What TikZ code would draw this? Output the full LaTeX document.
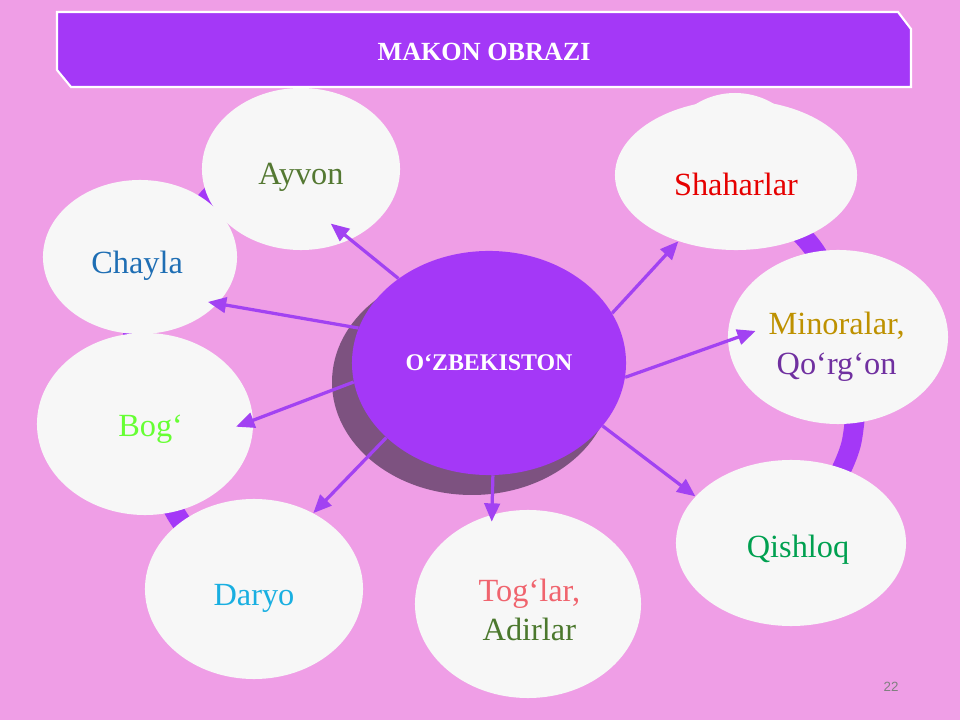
\documentclass[tikz,border=0pt]{standalone}
\usepackage{fontspec}
\setmainfont{Liberation Serif}
\newfontfamily\seitenfont{Liberation Sans}
\usetikzlibrary{shapes.geometric,arrows.meta}
\definecolor{rosa}{RGB}{239,158,230}
\definecolor{lila}{RGB}{164,56,247}
\definecolor{pfeillila}{RGB}{162,66,242}
\definecolor{schatten}{RGB}{125,82,128}
\definecolor{blasegrau}{RGB}{247,247,247}
\begin{document}
\begin{tikzpicture}
		[
		x=0.025cm, y=-0.025cm, >={Triangle[length=13pt,width=11pt]},
		%Voreinstellungen
		blase/.style 2 args={ellipse, fill=blasegrau, inner sep=0pt, minimum width=#1*0.05cm, minimum height=#2*0.05cm},
		every label/.style={font=\fontsize{23}{28}\selectfont, align=center, yshift=-5pt},
		pfeil/.style={->, pfeillila, line width=2.3pt},
		ring/.style={lila, line width=14pt}
		]
		
		%Hintergrund
		\fill[rosa] (0,0) rectangle (960,720);
		\useasboundingbox (0,0) rectangle (960,720);
		
		%Ring hinter den Blasen
		\draw[ring] plot[smooth] coordinates {(250,160) (206,201) (160,268) (133,334) (135,420) (176,514) (215,560)};
		\draw[ring] plot[smooth] coordinates {(770,205) (815,251) (855,335) (852,440) (825,500)};
		
		%Schatten der Mitte
		\fill[schatten] (472,382) ellipse (140 and 113);
		
		%Blasen
		\fill[blasegrau] (735,162) ellipse (72 and 69);
		\node[blase={121}{75}, label={[text={rgb,255:red,230;green,0;blue,0}, yshift=-2pt]center:Shaharlar}] (shaharlar) at (736,175) {};
		\node[blase={97}{77}, label={[text={rgb,255:red,30;green,110;blue,180}, yshift=-1pt, xshift=-2pt]center:Chayla}] (chayla) at (140,257) {};
		\node[blase={99}{81}, label={[text={rgb,255:red,84;green,120;blue,50}, yshift=-1pt]center:Ayvon}] (ayvon) at (301,169) {};
		\node[blase={108}{91}, label={[text={rgb,255:red,102;green,255;blue,51}, xshift=4pt, yshift=1pt]center:Bog‘}] (bog) at (145,424) {};
		\node[blase={109}{90}, label={[text={rgb,255:red,25;green,175;blue,225}, yshift=-2pt]center:Daryo}] (daryo) at (254,589) {};
		\node[blase={113}{94}, label={[yshift=1pt, xshift=1pt]center:{\textcolor[RGB]{240,100,110}{Tog‘lar,}\\\textcolor[RGB]{75,120,45}{Adirlar}}}] (toglar) at (528,604) {};
		\node[blase={115}{83}, label={[text={rgb,255:red,0;green,160;blue,80}, xshift=5pt]center:Qishloq}] (qishloq) at (791,543) {};
		\node[blase={110}{87}, label={[yshift=-2pt, xshift=-1pt]center:{\textcolor[RGB]{190,145,0}{Minoralar,}\\\textcolor[RGB]{112,48,160}{Qo‘rg‘on}}}] (minoralar) at (838,337) {};
		
		%Mitte
		\node[blase={137}{112}, fill=lila, text=white, font=\bfseries\fontsize{17}{18}\selectfont] (c) at (489,363) {O‘ZBEKISTON};
		
		%Pfeile von der Mitte
		\draw[pfeil, shorten >=-18pt] (c.137) -- (ayvon.-55);
		\draw[pfeil, shorten >=-7pt] (c.165) -- (chayla.-31);
		\draw[pfeil, shorten >=-13pt] (c.188) -- (bog.2);
		\draw[pfeil] (c.216) -- (daryo.52);
		\draw[pfeil, shorten >=-5pt] (c.272) -- (toglar.112);
		\draw[pfeil] (c.331) -- (qishloq.154);
		\draw[pfeil, shorten >=-21pt] (c.354) -- (minoralar.182);
		\draw[pfeil] (c.22) -- (shaharlar.229);
		
		%Titel
		\draw[white, line width=1.5pt, fill=lila] (57,12) -- (898,12) -- (911,29) -- (911,87) -- (71,87) -- (57,70) -- cycle;
		\node[text=white, font=\bfseries\fontsize{18.6}{20}\selectfont] (titel) at (484,52) {MAKON OBRAZI};
		
		%Seitenzahl
		\node[text=gray, font=\seitenfont\fontsize{9.5}{10}\selectfont] (seite) at (891,687) {22};
		
	\end{tikzpicture}
\end{document}
